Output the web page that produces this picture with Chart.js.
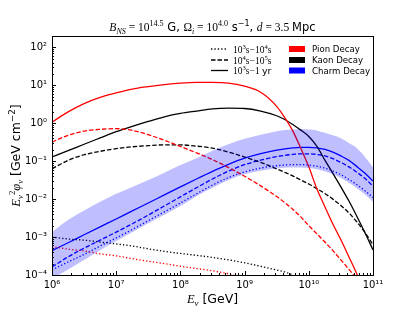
<!DOCTYPE html>
<html>
<head>
<meta charset="utf-8">
<script src="https://cdn.jsdelivr.net/npm/chart.js@4.4.1/dist/chart.umd.min.js"></script>
<style>
  html, body { margin: 0; padding: 0; background: #fff; }
  #wrap { width: 415px; height: 311px; }
</style>
</head>
<body>
<div id="wrap"><canvas id="nu-chart" width="415" height="311"></canvas></div>
<script>
// neutrino energy grid, GeV
const energy = [1.0e6, 1.78e6, 3.16e6, 5.62e6, 1.0e7, 1.78e7, 3.16e7, 5.62e7, 1.0e8, 1.78e8, 3.16e8, 5.62e8,
  1.0e9, 1.78e9, 3.16e9, 4.22e9, 5.62e9, 7.5e9, 1.0e10, 1.33e10, 1.78e10, 2.37e10, 3.16e10, 4.22e10, 5.62e10, 7.5e10, 1.0e11];

// E^2 phi [GeV cm^-2]
// pion decay
const pionShort = [5.6e-4, 4.8e-4, 4.3e-4, 3.6e-4, 3.2e-4, 2.7e-4, 2.3e-4, 2.0e-4, 1.7e-4, 1.48e-4, 1.29e-4, 1.07e-4, 8.3e-5, 6.3e-5,
  null, null, null, null, null, null, null, null, null, null, null, null, null];
const pionMid = [0.32, 0.48, 0.62, 0.69, 0.72, 0.65, 0.50, 0.355, 0.245, 0.166, 0.11, 0.068, 0.040, 0.0224, 0.0117, 0.0081,
  0.0054, 0.0034, 0.0020, 0.00123, 7.4e-4, 4.4e-4, 2.5e-4, 1.41e-4, 7.9e-5, 4.5e-5, 2.5e-5];
const pionLong = [1.07, 2.0, 3.3, 4.8, 6.3, 8.0, 9.3, 10.5, 11.5, 12.0, 12.0, 11.5, 9.5, 6.6, 2.8, 1.41, 0.63, 0.22, 0.071,
  0.019, 0.0063, 0.0022, 8.5e-4, 3.0e-4, 1.05e-4, 3.3e-5, 1.1e-5];
// kaon decay
const kaonShort = [1.0e-3, 8.9e-4, 8.3e-4, 7.4e-4, 6.6e-4, 5.8e-4, 4.9e-4, 4.2e-4, 3.7e-4, 3.3e-4, 2.9e-4, 2.5e-4, 2.1e-4, 1.7e-4,
  1.35e-4, 1.2e-4, 1.0e-4, 7.9e-5, 6.3e-5, null, null, null, null, null, null, null, null];
const kaonMid = [0.063, 0.105, 0.148, 0.182, 0.214, 0.24, 0.257, 0.27, 0.27, 0.25, 0.22, 0.174, 0.129, 0.093, 0.063, 0.051,
  0.041, 0.032, 0.025, 0.019, 0.0141, 0.010, 0.0068, 0.0043, 0.0025, 0.00132, 6.3e-4];
const kaonLong = [0.13, 0.19, 0.28, 0.41, 0.60, 0.83, 1.12, 1.48, 1.82, 2.1, 2.4, 2.5, 2.45, 2.1, 1.58, 1.26, 0.93, 0.66, 0.45,
  0.25, 0.107, 0.048, 0.021, 0.0089, 0.0035, 0.0013, 4.6e-4];
// charm decay
const charmShort = [1.35e-4, 2.2e-4, 3.5e-4, 5.8e-4, 9.5e-4, 1.58e-3, 2.7e-3, 4.6e-3, 7.9e-3, 0.0138, 0.0234, 0.037, 0.052,
  0.066, 0.076, 0.079, 0.081, 0.081, 0.079, 0.074, 0.066, 0.055, 0.044, 0.033, 0.024, 0.0166, 0.011];
const charmMid = [1.62e-4, 3.0e-4, 5.1e-4, 8.3e-4, 1.35e-3, 2.24e-3, 3.8e-3, 6.6e-3, 0.0115, 0.020, 0.034, 0.055, 0.081, 0.107,
  0.132, 0.143, 0.151, 0.157, 0.157, 0.151, 0.138, 0.117, 0.093, 0.071, 0.051, 0.035, 0.022];
const charmLong = [4.4e-4, 7.1e-4, 1.15e-3, 1.86e-3, 3.0e-3, 4.9e-3, 7.9e-3, 0.0129, 0.021, 0.034, 0.054, 0.083, 0.12, 0.158,
  0.195, 0.211, 0.224, 0.232, 0.232, 0.224, 0.204, 0.174, 0.138, 0.105, 0.072, 0.048, 0.030];
const charmBandHigh = [1.35e-3, 2.8e-3, 5.0e-3, 8.5e-3, 0.0138, 0.021, 0.032, 0.050, 0.079, 0.12, 0.19, 0.28, 0.39, 0.50,
  0.62, 0.66, 0.69, 0.71, 0.69, 0.65, 0.56, 0.48, 0.40, 0.30, 0.22, 0.13, 0.069];
const charmBandLow = [7.9e-5, 1.4e-4, 2.5e-4, 4.5e-4, 7.9e-4, 1.35e-3, 2.3e-3, 3.9e-3, 6.6e-3, 0.012, 0.020, 0.032, 0.045,
  0.056, 0.064, 0.067, 0.068, 0.068, 0.066, 0.061, 0.054, 0.045, 0.036, 0.027, 0.0195, 0.0132, 0.0085];

const xTicks = [1e6, 1e7, 1e8, 1e9, 1e10, 1e11];
const yTicks = [1e-4, 1e-3, 1e-2, 1e-1, 1e0, 1e1, 1e2];

const RED = '#ff0000', BLACK = '#000000', BLUE = '#0000ff';
const DOT = [1.3, 2.1], DASH = [4.5, 2];

function pts(arr) {
    return energy.map((e, i) => ({x: e, y: arr[i]}));
}
function line(arr, color, dash) {
    return {
        data: pts(arr),
        borderColor: color,
        borderWidth: 1.3,
        borderDash: dash,
        pointRadius: 0,
        fill: false,
        cubicInterpolationMode: 'monotone',
        spanGaps: false
    };
}

const SUP = {'0':'⁰','1':'¹','2':'²','3':'³','4':'⁴','5':'⁵','6':'⁶','7':'⁷','8':'⁸','9':'⁹','-':'⁻'};
function powLabel(v) {
    const p = String(Math.round(Math.log10(v)));
    return '10' + p.split('').map(c => SUP[c]).join('');
}

// text with super/subscripts
const SERIF = '"Liberation Serif", "DejaVu Serif", serif';
const SANS = '"DejaVu Sans", sans-serif';
function richText(ctx, segs, x, y, size, align) {
    const fontOf = (s) => {
        const sz = (s.sup || s.sub) ? size * 0.7 : size;
        const fam = s.f === 's' ? SANS : SERIF;
        const st = s.f === 'i' ? 'italic ' : '';
        return st + sz + 'px ' + fam;
    };
    let w = 0;
    segs.forEach(s => { ctx.font = fontOf(s); s.w = ctx.measureText(s.t).width; w += s.w; });
    let cx = align === 'center' ? x - w / 2 : x;
    ctx.textAlign = 'left';
    ctx.textBaseline = 'alphabetic';
    segs.forEach(s => {
        ctx.font = fontOf(s);
        let dy = 0;
        if (s.sup) dy = -size * 0.4;
        if (s.sub) dy = size * 0.22;
        ctx.fillText(s.t, cx, y + dy);
        cx += s.w;
    });
}

const decorPlugin = {
    id: 'decor',
    afterDraw(chart) {
        const ctx = chart.ctx;
        const a = chart.chartArea;
        const xs = chart.scales.x, ys = chart.scales.y;
        ctx.save();
        ctx.fillStyle = '#000';
        ctx.strokeStyle = '#000';
        ctx.lineWidth = 1;
        // frame
        ctx.strokeRect(Math.round(a.left) + 0.5, Math.round(a.top) + 0.5,
            Math.round(a.right - a.left), Math.round(a.bottom - a.top));
        // inward ticks
        ctx.beginPath();
        for (let d = 6; d <= 11; d++) {
            for (let m = 1; m <= 9; m++) {
                const v = m * Math.pow(10, d);
                if (v > 1e11 * 1.0001) break;
                const px = Math.round(xs.getPixelForValue(v)) + 0.5;
                const len = m === 1 ? 4 : 2;
                ctx.moveTo(px, a.bottom);
                ctx.lineTo(px, a.bottom - len);
            }
        }
        for (let d = -4; d <= 2; d++) {
            for (let m = 1; m <= 9; m++) {
                const v = m * Math.pow(10, d);
                if (v > 200) break;
                const py = Math.round(ys.getPixelForValue(v)) + 0.5;
                const len = m === 1 ? 4 : 2;
                ctx.moveTo(a.left, py);
                ctx.lineTo(a.left + len, py);
            }
        }
        ctx.stroke();

        // title
        richText(ctx, [
            {t: 'B', f: 'i'}, {t: 'NS', f: 'i', sub: 1}, {t: ' = 10'}, {t: '14.5', sup: 1},
            {t: ' G, ', f: 's'}, {t: 'Ω'}, {t: 'i', f: 'i', sub: 1}, {t: ' = 10'}, {t: '4.0', sup: 1},
            {t: ' s', f: 's'}, {t: '−1', f: 's', sup: 1}, {t: ', ', f: 's'}, {t: 'd', f: 'i'},
            {t: ' = 3.5 '}, {t: 'Mpc', f: 's'}
        ], (a.left + a.right) / 2, 31, 11.5, 'center');

        // x axis title
        richText(ctx, [
            {t: 'E', f: 'i'}, {t: 'ν', f: 'i', sub: 1}, {t: ' [GeV]', f: 's'}
        ], (a.left + a.right) / 2, 303, 12.5, 'center');

        // y axis title
        ctx.save();
        ctx.translate(20, (a.top + a.bottom) / 2);
        ctx.rotate(-Math.PI / 2);
        richText(ctx, [
            {t: 'E', f: 'i'}, {t: 'ν', f: 'i', sub: 1}, {t: '2', sup: 1}, {t: 'φ', f: 'i'}, {t: 'ν', f: 'i', sub: 1},
            {t: ' [GeV cm', f: 's'}, {t: '−2', f: 's', sup: 1}, {t: ']', f: 's'}
        ], 0, 0, 12.5, 'center');
        ctx.restore();

        // legend: line styles
        const rows = [49, 60, 70.5];
        const styles = [DOT, DASH, []];
        const styleText = [
            [{t: '10'}, {t: '3', sup: 1}, {t: 's−10'}, {t: '4', sup: 1}, {t: 's'}],
            [{t: '10'}, {t: '4', sup: 1}, {t: 's−10'}, {t: '5', sup: 1}, {t: 's'}],
            [{t: '10'}, {t: '3', sup: 1}, {t: 's−1 '}, {t: 'yr', f: 's'}]
        ];
        rows.forEach((ry, i) => {
            ctx.beginPath();
            ctx.setLineDash(styles[i]);
            ctx.lineWidth = 1.3;
            ctx.moveTo(211, ry);
            ctx.lineTo(228, ry);
            ctx.stroke();
            ctx.setLineDash([]);
            richText(ctx, styleText[i], 233, ry + 3.5, 9.5, 'left');
        });
        // legend: colours
        const names = ['Pion Decay', 'Kaon Decay', 'Charm Decay'];
        const cols = [RED, BLACK, BLUE];
        rows.forEach((ry, i) => {
            ctx.fillStyle = cols[i];
            ctx.fillRect(289, ry - 3, 16, 6);
            ctx.fillStyle = '#000';
            ctx.font = '8.6px ' + SANS;
            ctx.textAlign = 'left';
            ctx.textBaseline = 'alphabetic';
            ctx.fillText(names[i], 312, ry + 3.3);
        });
        ctx.restore();
    }
};

const nuChart = new Chart(document.getElementById('nu-chart'), {
    type: 'line',
    data: {
        datasets: [
            // charm band (upper fills down to lower)
            {data: pts(charmBandHigh), borderWidth: 0, pointRadius: 0, fill: '+1',
             backgroundColor: 'rgba(0,0,255,0.25)', cubicInterpolationMode: 'monotone'},
            {data: pts(charmBandLow), borderWidth: 0, pointRadius: 0, fill: false,
             cubicInterpolationMode: 'monotone'},
            line(pionShort, RED, DOT),
            line(pionMid, RED, DASH),
            line(pionLong, RED, []),
            line(kaonShort, BLACK, DOT),
            line(kaonMid, BLACK, DASH),
            line(kaonLong, BLACK, []),
            line(charmShort, BLUE, DOT),
            line(charmMid, BLUE, DASH),
            line(charmLong, BLUE, [])
        ]
    },
    options: {
        responsive: false,
        animation: false,
        events: [],
        layout: {padding: {top: 36, right: 42, left: 0, bottom: 0}},
        plugins: {
            legend: {display: false},
            title: {display: false},
            tooltip: {enabled: false}
        },
        scales: {
            x: {
                type: 'logarithmic',
                min: 1e6,
                max: 1e11,
                grid: {display: false, drawTicks: false},
                border: {display: false},
                afterBuildTicks: (s) => { s.ticks = xTicks.map(v => ({value: v})); },
                afterFit: (s) => { s.height = 36; },
                ticks: {
                    autoSkip: false,
                    maxRotation: 0,
                    padding: 4,
                    color: '#000',
                    font: {family: 'DejaVu Sans', size: 10},
                    callback: (v) => powLabel(v)
                }
            },
            y: {
                type: 'logarithmic',
                min: 1e-4,
                max: 200,
                grid: {display: false, drawTicks: false},
                border: {display: false},
                afterBuildTicks: (s) => { s.ticks = yTicks.map(v => ({value: v})); },
                afterFit: (s) => { s.width = 52; },
                ticks: {
                    autoSkip: false,
                    padding: 5,
                    color: '#000',
                    font: {family: 'DejaVu Sans', size: 10},
                    callback: (v) => powLabel(v)
                }
            }
        }
    },
    plugins: [decorPlugin]
});
</script>
</body>
</html>
